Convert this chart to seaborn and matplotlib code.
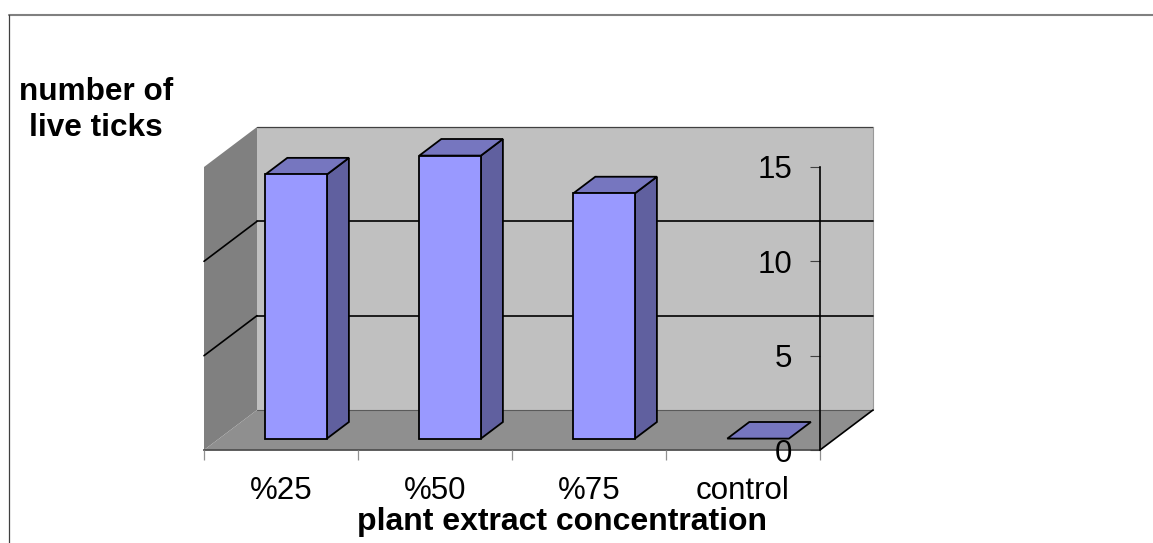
#!/usr/bin/env python3
# Pseudo-3D column chart: number of live ticks by plant extract concentration
import numpy as np
import seaborn as sns
import matplotlib.pyplot as plt
from matplotlib.lines import Line2D
from matplotlib.patches import Polygon
from matplotlib.transforms import Affine2D, IdentityTransform

categories = ['%25', '%50', '%75', 'control']
live_ticks = [14, 15, 13, 0]
y_ticks = [0, 5, 10, 15]
grid_levels = [5, 10]

W, H = 1153, 543
DEPTH = np.array([53.0, 40.0])  # back wall offset in pixels
BAR_FRONT = 0.285               # bar position inside the depth
BAR_BACK = 0.70

sns.set_style('white')
plt.rcParams['font.family'] = ['Liberation Sans', 'DejaVu Sans']
plt.rcParams['text.color'] = 'black'
plt.rcParams['axes.labelcolor'] = 'black'

fig = plt.figure(figsize=(W / 100, H / 100), dpi=100)
ax = fig.add_axes([204 / W, 1 - 450 / H, 616 / W, 283 / H])
ax.patch.set_visible(False)
ax.set_axisbelow(False)

sns.barplot(x=categories, y=live_ticks, width=0.4, color='#9999ff', saturation=1,
            edgecolor='black', linewidth=1.3, ax=ax, zorder=4)
ax.set_xlim(-0.5, len(categories) - 0.5)
ax.set_ylim(0, 15)


def proj(x, y, d=0.0):
    # data position plus depth -> display pixels
    return ax.transData.transform((x, y)) + d * DEPTH


def face(points, color, edge='none', lw=0.0, z=1):
    ax.add_patch(Polygon(points, closed=True, facecolor=color, edgecolor=edge, linewidth=lw,
                         transform=IdentityTransform(), clip_on=False, zorder=z))


def line(p, q, color='black', lw=1.2, z=2):
    ax.add_line(Line2D([p[0], q[0]], [p[1], q[1]], color=color, linewidth=lw,
                       transform=IdentityTransform(), clip_on=False, zorder=z))


x0, x1 = ax.get_xlim()
y0, y1 = ax.get_ylim()

# walls and floor
face([proj(x0, y0, 1), proj(x1, y0, 1), proj(x1, y1, 1), proj(x0, y1, 1)], '#c0c0c0')
face([proj(x0, y0), proj(x0, y0, 1), proj(x0, y1, 1), proj(x0, y1)], '#808080')
face([proj(x0, y0), proj(x1, y0), proj(x1, y0, 1), proj(x0, y0, 1)], '#8f8f8f')

line(proj(x0, y1, 1), proj(x1, y1, 1), color='#404040', lw=0.9)
line(proj(x1, y0, 1), proj(x1, y1, 1), color='#999999', lw=0.8)
line(proj(x0, y0, 1), proj(x1, y0, 1), color='#5a5a5a', lw=0.8)
line(proj(x1, y0), proj(x1, y0, 1))

for level in grid_levels:
    line(proj(x0, level), proj(x0, level, 1))
    line(proj(x0, level, 1), proj(x1, level, 1))

# bars: the seaborn front faces get pushed back, side and top are built from them
shift = Affine2D().translate(*(BAR_FRONT * DEPTH))
for bar in ax.patches[:len(categories)]:
    left, right = bar.get_x(), bar.get_x() + bar.get_width()
    top = bar.get_height()
    if top > 0:
        bar.set_transform(ax.transData + shift)
        bar.set_clip_on(False)
        face([proj(right, 0, BAR_FRONT), proj(right, 0, BAR_BACK),
              proj(right, top, BAR_BACK), proj(right, top, BAR_FRONT)],
             '#60609f', 'black', 1.3, 3)
    else:
        bar.set_visible(False)
    face([proj(left, top, BAR_FRONT), proj(right, top, BAR_FRONT),
          proj(right, top, BAR_BACK), proj(left, top, BAR_BACK)],
         '#7676bf', 'black', 1.3, 3)

# axes
sns.despine(ax=ax, top=True, left=True, right=False, bottom=False)
ax.spines['right'].set_color('black')
ax.spines['right'].set_linewidth(1.2)
ax.spines['bottom'].set_color('#505050')
ax.spines['bottom'].set_linewidth(1.3)
ax.spines['right'].set_zorder(5)

ax.yaxis.tick_right()
ax.set_yticks(y_ticks)
ax.tick_params(axis='y', right=True, direction='in', length=7, width=0.8, color='#404040',
               pad=-20, labelsize=22.5, labelcolor='black')
plt.setp(ax.get_yticklabels(), ha='right')

ax.set_xticks(np.arange(len(categories) + 1) - 0.5, minor=True)
ax.tick_params(axis='x', which='minor', bottom=True, direction='out', length=7, width=0.9,
               color='#909090')
ax.tick_params(axis='x', which='major', bottom=False, length=0, pad=19, labelsize=22.5,
               labelcolor='black')

ax.set_xlabel('plant extract concentration', fontsize=23, fontweight='bold', va='baseline')
ax.xaxis.set_label_coords((562 - 204) / 616, (450 - 530) / 283)
ax.yaxis.set_label_position('left')
ax.set_ylabel('number of\nlive ticks', fontsize=22.7, fontweight='bold', rotation=0,
              ha='center', va='center', linespacing=1.3)
ax.yaxis.set_label_coords((96 - 204) / 616, (450 - 110) / 283)

# chart frame: gray top edge, dark left edge, nothing else
fig.add_artist(Line2D([9 / W, 1], [1 - 15 / H, 1 - 15 / H], color='#808080', linewidth=1.5))
fig.add_artist(Line2D([9 / W, 9 / W], [0, 1 - 15 / H], color='#404040', linewidth=0.9))

fig.savefig('out.png', dpi=100)
